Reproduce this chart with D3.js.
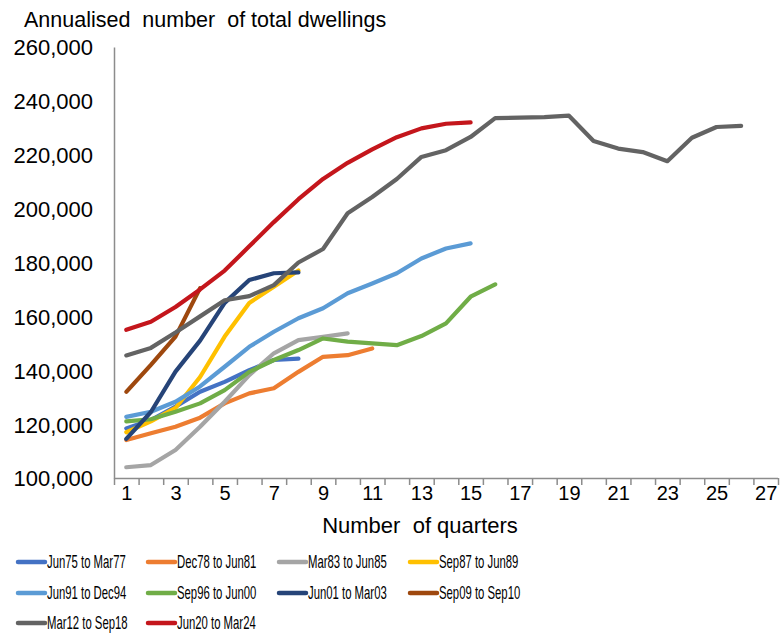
<!DOCTYPE html>
<html>
<head>
<meta charset="utf-8">
<script src="https://cdn.jsdelivr.net/npm/d3@7"></script>
<style>
  html, body { margin: 0; padding: 0; background: #fff; }
  svg { display: block; }
  text { font-family: "Liberation Sans", Arial, sans-serif; fill: #000; }
</style>
</head>
<body>
<svg id="chart" width="781" height="633"></svg>
<script>
// Annualised dwelling approvals through each upswing, by quarter since start
const xTickLabels = [1, 3, 5, 7, 9, 11, 13, 15, 17, 19, 21, 23, 25, 27];
const yTickValues = [100000, 120000, 140000, 160000, 180000, 200000, 220000, 240000, 260000];

const jun75 = [118400, 121500, 126500, 132000, 135700, 140000, 143800, 144300];
const dec78 = [114100, 116600, 119000, 122400, 127700, 131400, 133300, 139400, 145000, 145600, 148100];
const mar83 = [104000, 104800, 110400, 119000, 128300, 138200, 146300, 151200, 152400, 153700];
const sep87 = [117000, 121000, 126000, 137500, 152500, 165000, 171000, 177000];
const jun91 = [122700, 124600, 128300, 134000, 141300, 148700, 154300, 159300, 163000, 168600, 172200, 176000, 181500, 185200, 187100];
const sep96 = [121000, 121800, 124600, 127700, 132600, 139400, 143800, 147500, 151800, 150600, 150000, 149300, 152700, 157400, 167300, 171900];
const jun01 = [114500, 124500, 139500, 151000, 165000, 173500, 176000, 176300];
const sep09 = [132000, 142000, 152500, 170500];
const mar12 = [145500, 148300, 154000, 160000, 166000, 167500, 171600, 180000, 185000, 198300, 204300, 211000, 219200, 221700, 226600, 233600, 233800, 234000, 234500, 225100, 222300, 221000, 217600, 226300, 230300, 230700];
const jun20 = [155000, 158000, 163500, 170000, 177000, 186000, 195000, 203500, 211000, 217000, 222000, 226500, 229800, 231500, 232000];

const seriesNames = ["Jun75 to Mar77", "Dec78 to Jun81", "Mar83 to Jun85", "Sep87 to Jun89",
  "Jun91 to Dec94", "Sep96 to Jun00", "Jun01 to Mar03", "Sep09 to Sep10",
  "Mar12 to Sep18", "Jun20 to Mar24"];
const seriesValues = [jun75, dec78, mar83, sep87, jun91, sep96, jun01, sep09, mar12, jun20];
const seriesColors = ["#4472C4", "#ED7D31", "#A5A5A5", "#FFC000", "#5B9BD5", "#70AD47",
  "#264478", "#9E480E", "#636363", "#C4161C"];

const series = seriesNames.map((name, i) => ({
  name, color: seriesColors[i],
  values: seriesValues[i].map((v, j) => ({ q: j + 1, v }))
}));

const svg = d3.select("#chart");
const plotLeft = 114, plotRight = 778, plotTop = 47, plotBottom = 478;

// Categories sit in the middle of unit-wide slots: slot edges at q +/- 0.5
const x = d3.scaleLinear().domain([0.5, 27.5]).range([plotLeft, plotRight]);
const y = d3.scaleLinear().domain([100000, 260000]).range([plotBottom, plotTop]);

const axisColor = "#8c8c8c";

// y axis: labels only, plus the vertical line
const yAxis = svg.append("g")
  .attr("transform", `translate(${plotLeft},0)`)
  .call(d3.axisLeft(y).tickValues(yTickValues).tickSize(0).tickPadding(21)
    .tickFormat(d3.format(",")));
yAxis.select(".domain").attr("stroke", axisColor).attr("stroke-width", 1.5);
yAxis.selectAll("text").style("font-size", "22px").attr("dy", "0.36em");

// x axis: tick marks at slot edges
const xEdges = svg.append("g")
  .attr("transform", `translate(0,${plotBottom})`)
  .call(d3.axisBottom(x).tickValues(d3.range(0.5, 28, 1)).tickSize(7).tickFormat(""));
xEdges.select(".domain").attr("stroke", axisColor).attr("stroke-width", 1.5).attr("d", `M${plotLeft},0.5H${plotRight}`);
xEdges.selectAll(".tick line").attr("stroke", axisColor).attr("stroke-width", 1.5);

// x axis labels on every other quarter
const xLabels = svg.append("g")
  .attr("transform", `translate(0,${plotBottom})`)
  .call(d3.axisBottom(x).tickValues(xTickLabels).tickSize(0).tickPadding(8).tickFormat(d3.format("d")));
xLabels.select(".domain").remove();
xLabels.selectAll("text").style("font-size", "20px");

// Titles
svg.append("text")
  .attr("x", 24).attr("y", 27)
  .style("font-size", "21.5px").style("white-space", "pre")
  .text("Annualised  number  of total dwellings");

svg.append("text")
  .attr("x", 420).attr("y", 533)
  .attr("text-anchor", "middle")
  .style("font-size", "22px").style("white-space", "pre")
  .text("Number  of quarters");

// Lines
const line = d3.line().x(d => x(d.q)).y(d => y(d.v));
svg.append("g").selectAll("path")
  .data(series)
  .join("path")
  .attr("fill", "none")
  .attr("stroke", d => d.color)
  .attr("stroke-width", 4.2)
  .attr("stroke-linejoin", "round")
  .attr("stroke-linecap", "round")
  .attr("d", d => line(d.values));

// Legend: four columns, condensed labels
const colX = [18, 148, 279, 410];
const rowY = [562, 593, 623];
const legend = svg.append("g").selectAll("g")
  .data(series)
  .join("g")
  .attr("transform", (d, i) => `translate(${colX[i % 4]},${rowY[Math.floor(i / 4)]})`);
legend.append("line")
  .attr("x1", 0).attr("x2", 27).attr("y1", 0).attr("y2", 0)
  .attr("stroke", d => d.color).attr("stroke-width", 4.5).attr("stroke-linecap", "round");
legend.append("text")
  .attr("transform", "translate(29,0) scale(0.63,1)")
  .attr("dy", "0.36em")
  .style("font-size", "18px")
  .text(d => d.name);
</script>
</body>
</html>
